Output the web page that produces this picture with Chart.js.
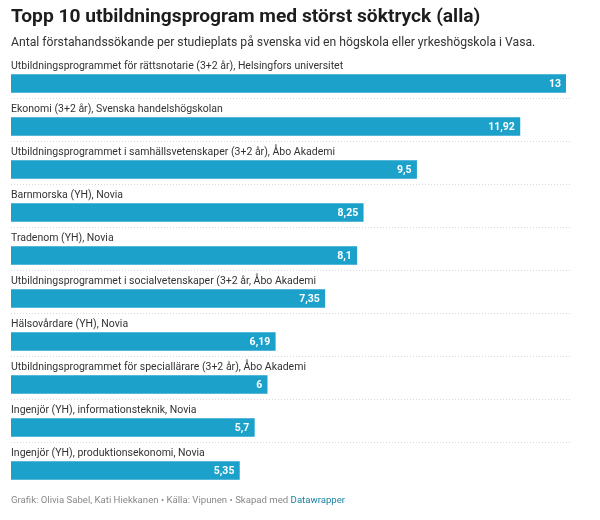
<!DOCTYPE html>
<html>
<head>
<meta charset="utf-8">
<script src="https://cdn.jsdelivr.net/npm/chart.js@4"></script>
<style>
  body { margin: 0; background: #fff; font-family: Roboto, "Noto Sans", sans-serif; }
  #wrap { position: relative; width: 600px; height: 520px; }
  h1 { position: absolute; left: 11px; top: 4px; margin: 0; font-size: 19.2px; font-weight: 700; color: #1d1d1d; }
  .sub { position: absolute; left: 11px; top: 35px; margin: 0; font-size: 12.2px; color: #333; }
  .foot { position: absolute; left: 11px; top: 494px; font-size: 9.6px; color: #888; }
  .foot span { color: #1d81a2; }
  #box { position: absolute; left: 0; top: 0; width: 600px; height: 495px; }
</style>
</head>
<body>
<div id="wrap">
  <div id="box"><canvas id="c"></canvas></div>
  <h1>Topp 10 utbildningsprogram med störst söktryck (alla)</h1>
  <p class="sub">Antal förstahandssökande per studieplats på svenska vid en högskola eller yrkeshögskola i Vasa.</p>
  <div class="foot">Grafik: Olivia Sabel, Kati Hiekkanen • Källa: Vipunen • Skapad med <span>Datawrapper</span></div>
</div>
<script>
const programs = [
  "Utbildningsprogrammet för rättsnotarie (3+2 år), Helsingfors universitet",
  "Ekonomi (3+2 år), Svenska handelshögskolan",
  "Utbildningsprogrammet i samhällsvetenskaper (3+2 år), Åbo Akademi",
  "Barnmorska (YH), Novia",
  "Tradenom (YH), Novia",
  "Utbildningsprogrammet i socialvetenskaper (3+2 år, Åbo Akademi",
  "Hälsovårdare (YH), Novia",
  "Utbildningsprogrammet för speciallärare (3+2 år), Åbo Akademi",
  "Ingenjör (YH), informationsteknik, Novia",
  "Ingenjör (YH), produktionsekonomi, Novia"
];
const applicants = [13, 11.92, 9.5, 8.25, 8.1, 7.35, 6.19, 6, 5.7, 5.35];

// labels above bars, values inside, dotted separators
const rowDecor = {
  id: 'rowDecor',
  afterDatasetsDraw(chart) {
    const ctx = chart.ctx;
    const area = chart.chartArea;
    const meta = chart.getDatasetMeta(0);
    ctx.save();
    meta.data.forEach((bar, i) => {
      const top = bar.y - bar.height / 2;
      const bottom = bar.y + bar.height / 2;
      ctx.font = '10.5px Roboto';
      ctx.fillStyle = '#333';
      ctx.textAlign = 'left';
      ctx.textBaseline = 'alphabetic';
      ctx.fillText(programs[i], area.left, top - 6);

      ctx.font = 'bold 10.5px Roboto';
      ctx.fillStyle = '#fff';
      ctx.textAlign = 'right';
      ctx.textBaseline = 'middle';
      ctx.fillText(String(applicants[i]).replace('.', ','), bar.x - 5, bar.y + 1);

      if (i < meta.data.length - 1) {
        ctx.strokeStyle = '#d9d9d9';
        ctx.lineWidth = 1;
        ctx.setLineDash([1, 2]);
        ctx.beginPath();
        ctx.moveTo(area.left, Math.round(bottom + 5) + 0.5);
        ctx.lineTo(area.right + 4, Math.round(bottom + 5) + 0.5);
        ctx.stroke();
      }
    });
    ctx.restore();
  }
};

new Chart(document.getElementById('c'), {
  type: 'bar',
  data: {
    labels: programs,
    datasets: [{
      data: applicants,
      backgroundColor: '#1ca1cb',
      borderWidth: 0,
      barThickness: 18
    }]
  },
  options: {
    indexAxis: 'y',
    responsive: true,
    maintainAspectRatio: false,
    animation: false,
    layout: { padding: { left: 11, right: 34, top: 62, bottom: 3 } },
    scales: {
      x: { display: false, min: 0, max: 13 },
      y: { display: false, offset: true }
    },
    plugins: {
      legend: { display: false },
      tooltip: { enabled: false }
    }
  },
  plugins: [rowDecor]
});
</script>
</body>
</html>
